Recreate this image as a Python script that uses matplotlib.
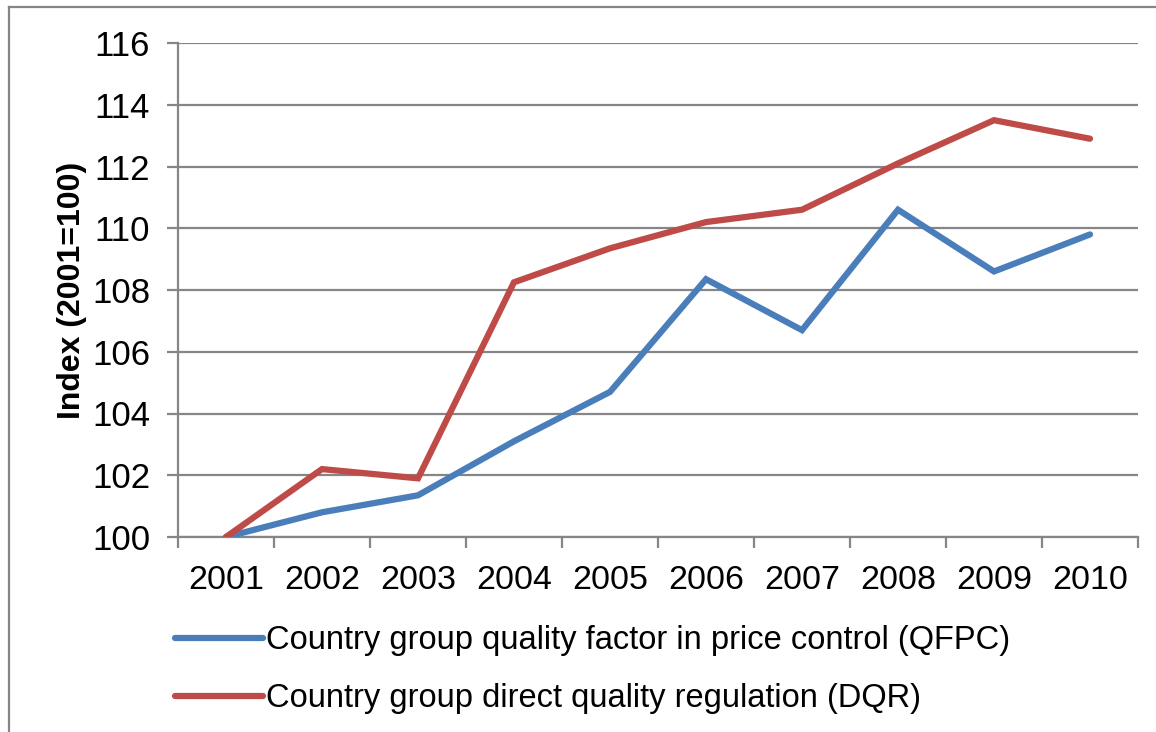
import matplotlib.pyplot as plt
from matplotlib.lines import Line2D

plt.rcParams['font.family'] = ['Liberation Sans', 'DejaVu Sans']

years = ['2001', '2002', '2003', '2004', '2005', '2006', '2007', '2008', '2009', '2010']
qfpc = [100.0, 100.8, 101.35, 103.1, 104.7, 108.35, 106.7, 110.6, 108.6, 109.8]
dqr = [100.0, 102.2, 101.9, 108.25, 109.35, 110.2, 110.6, 112.1, 113.5, 112.9]
yticks = [100, 102, 104, 106, 108, 110, 112, 114, 116]

blue = '#4A7EBB'
red = '#BE4B48'
grey = '#868686'

fig = plt.figure(figsize=(11.56, 7.32), dpi=100)
ax = fig.add_axes([178/1156, 1 - 537/732, (1138-178)/1156, (537-43)/732])

x = list(range(len(years)))
ax.plot(x, qfpc, color=blue, lw=4.5, solid_capstyle='round', solid_joinstyle='miter',
        label='Country group quality factor in price control (QFPC)', zorder=3)
ax.plot(x, dqr, color=red, lw=4.5, solid_capstyle='round', solid_joinstyle='miter',
        label='Country group direct quality regulation (DQR)', zorder=3)

ax.set_xlim(-0.5, len(years) - 0.5)
ax.set_ylim(100, 116)
ax.set_yticks(yticks)
ax.set_yticklabels([str(v) for v in yticks], fontsize=25)
ax.set_xticks([i - 0.5 for i in range(len(years) + 1)])
ax.set_xticklabels([])
ax.set_xticks(x, minor=True)
ax.set_xticklabels(years, minor=True, fontsize=24.5)
ax.tick_params(axis='x', which='minor', length=0, pad=20)
ax.tick_params(axis='x', which='major', length=8, color=grey, width=1.6)
ax.tick_params(axis='y', length=8, color=grey, width=1.6, pad=12)

ax.yaxis.grid(True, color=grey, lw=1.6)
ax.set_axisbelow(True)
for s in ['top', 'right']:
    ax.spines[s].set_visible(False)
for s in ['left', 'bottom']:
    ax.spines[s].set_color(grey)
    ax.spines[s].set_linewidth(1.6)

ax.set_ylabel('Index (2001=100)', fontsize=23, fontweight='bold', labelpad=4)

fig.legend(loc='upper left', bbox_to_anchor=(146/1156, 1 - 596/732), frameon=False,
           fontsize=23.5, handlelength=2.67, handletextpad=0.1, labelspacing=0.83)

# outer chart frame (clipped on right and bottom)
fig.add_artist(Line2D([9/1156, 9/1156], [0, 1 - 7/732], color=grey, lw=1.6))
fig.add_artist(Line2D([9/1156, 1], [1 - 7/732, 1 - 7/732], color=grey, lw=1.6))

fig.savefig('out.png', dpi=100)
